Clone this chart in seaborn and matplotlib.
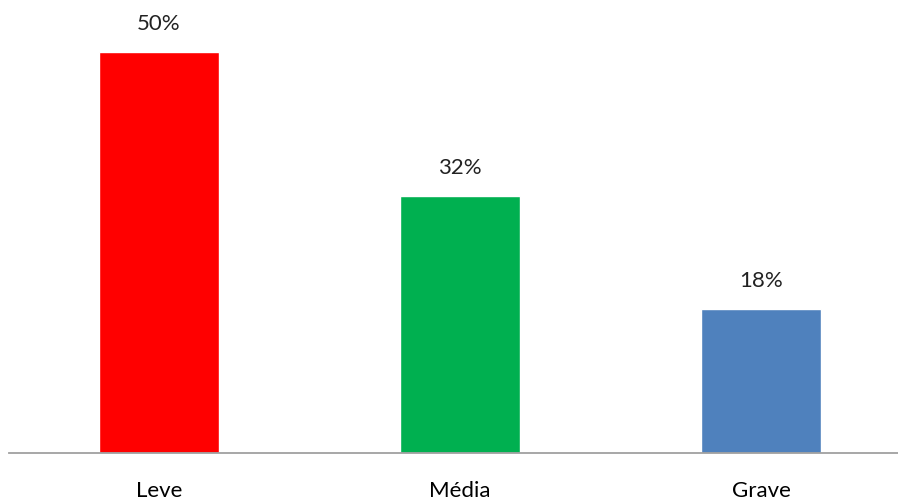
import matplotlib
matplotlib.use("Agg")
import matplotlib.pyplot as plt
import seaborn as sns
import pandas as pd

categories = ["Leve", "Média", "Grave"]
values = [50, 32, 18]
labels = ["50%", "32%", "18%"]
colors = ["#FF0000", "#00B050", "#4F81BD"]

sns.set_theme(style="white")
plt.rcParams["font.family"] = ["Lato", "DejaVu Sans"]

df = pd.DataFrame({"cat": categories, "val": values})

fig = plt.figure(figsize=(8.98, 4.97), dpi=100)
ax = fig.add_axes([8.5 / 898, 44 / 497, 903 / 898, 453 / 497])
sns.barplot(data=df, x="cat", y="val", hue="cat", palette=colors,
            width=0.4, ax=ax, legend=False, saturation=1)
ax.set_xlim(-0.5, 2.5)
ax.set_ylim(0, 56.5)
for sp in ["top", "right", "left"]:
    ax.spines[sp].set_visible(False)
ax.spines["bottom"].set_color("#A0A0A0")
ax.spines["bottom"].set_linewidth(1.3)
ax.set_yticks([])
ax.set_xlabel("")
ax.set_ylabel("")
ax.tick_params(axis="x", length=0, pad=20, labelsize=16, colors="black")
for i, (v, lab) in enumerate(zip(values, labels)):
    ax.annotate(lab, (i, v), xytext=(0, 13), textcoords="offset points",
                ha="center", va="bottom", fontsize=16, color="#222222")
fig.savefig("out.png", dpi=100)
